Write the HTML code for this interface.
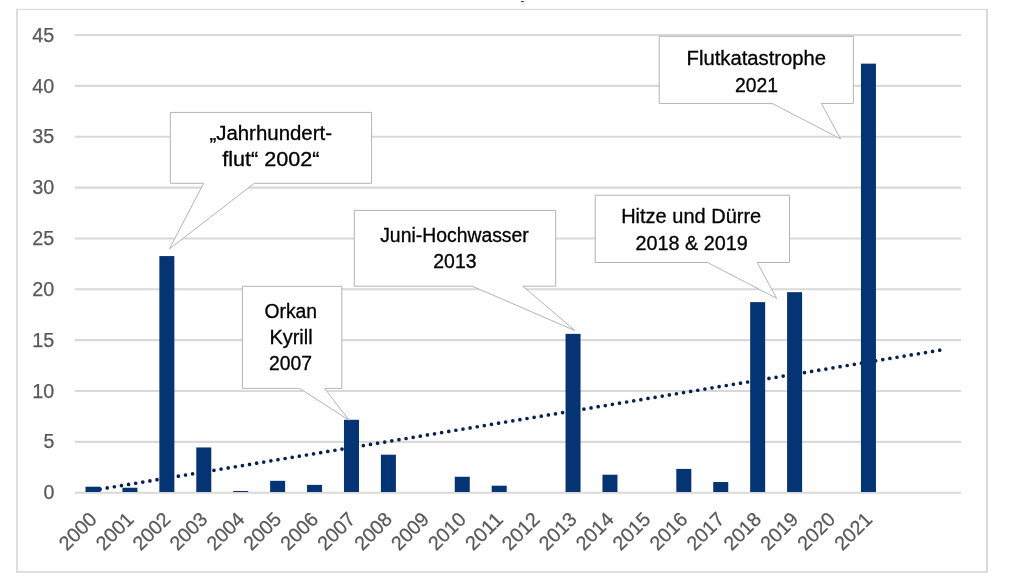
<!DOCTYPE html>
<html lang="de"><head><meta charset="utf-8"><title>Chart</title>
<style>html,body{margin:0;padding:0;background:#fff}svg{display:block}text{font-family:"Liberation Sans",sans-serif}</style>
</head><body>
<svg width="1012" height="583" viewBox="0 0 1012 583">
<rect x="0" y="0" width="1012" height="583" fill="#fff"/>
<rect x="520.9" y="1.0" width="3" height="0.9" fill="#2a2a2a"/>
<rect x="521" y="2.4" width="4" height="3.2" fill="#f1f1f1"/>
<rect x="16.1" y="8.9" width="971.9" height="1.0" fill="#d6d6d6"/>
<rect x="16.1" y="571.1" width="971.9" height="1.7" fill="#d9d9d9"/>
<rect x="16.1" y="8.9" width="1.8" height="563.9" fill="#dadada"/>
<rect x="986.05" y="8.9" width="1.95" height="563.9" fill="#d9d9d9"/>
<line x1="74.8" y1="492.70" x2="961.0" y2="492.70" stroke="#d9d9d9" stroke-width="2.1"/>
<text x="54.3" y="499.30" font-size="19.6" fill="#595959" stroke="#595959" stroke-width="0.25" text-anchor="end" textLength="10.9" lengthAdjust="spacingAndGlyphs">0</text>
<line x1="74.8" y1="441.85" x2="961.0" y2="441.85" stroke="#d9d9d9" stroke-width="2.1"/>
<text x="54.3" y="448.45" font-size="19.6" fill="#595959" stroke="#595959" stroke-width="0.25" text-anchor="end" textLength="10.9" lengthAdjust="spacingAndGlyphs">5</text>
<line x1="74.8" y1="391.00" x2="961.0" y2="391.00" stroke="#d9d9d9" stroke-width="2.1"/>
<text x="54.3" y="397.60" font-size="19.6" fill="#595959" stroke="#595959" stroke-width="0.25" text-anchor="end" textLength="22" lengthAdjust="spacingAndGlyphs">10</text>
<line x1="74.8" y1="340.15" x2="961.0" y2="340.15" stroke="#d9d9d9" stroke-width="2.1"/>
<text x="54.3" y="346.75" font-size="19.6" fill="#595959" stroke="#595959" stroke-width="0.25" text-anchor="end" textLength="22" lengthAdjust="spacingAndGlyphs">15</text>
<line x1="74.8" y1="289.30" x2="961.0" y2="289.30" stroke="#d9d9d9" stroke-width="2.1"/>
<text x="54.3" y="295.90" font-size="19.6" fill="#595959" stroke="#595959" stroke-width="0.25" text-anchor="end" textLength="22" lengthAdjust="spacingAndGlyphs">20</text>
<line x1="74.8" y1="238.45" x2="961.0" y2="238.45" stroke="#d9d9d9" stroke-width="2.1"/>
<text x="54.3" y="245.05" font-size="19.6" fill="#595959" stroke="#595959" stroke-width="0.25" text-anchor="end" textLength="22" lengthAdjust="spacingAndGlyphs">25</text>
<line x1="74.8" y1="187.60" x2="961.0" y2="187.60" stroke="#d9d9d9" stroke-width="2.1"/>
<text x="54.3" y="194.20" font-size="19.6" fill="#595959" stroke="#595959" stroke-width="0.25" text-anchor="end" textLength="22" lengthAdjust="spacingAndGlyphs">30</text>
<line x1="74.8" y1="136.75" x2="961.0" y2="136.75" stroke="#d9d9d9" stroke-width="2.1"/>
<text x="54.3" y="143.35" font-size="19.6" fill="#595959" stroke="#595959" stroke-width="0.25" text-anchor="end" textLength="22" lengthAdjust="spacingAndGlyphs">35</text>
<line x1="74.8" y1="85.90" x2="961.0" y2="85.90" stroke="#d9d9d9" stroke-width="2.1"/>
<text x="54.3" y="92.50" font-size="19.6" fill="#595959" stroke="#595959" stroke-width="0.25" text-anchor="end" textLength="22" lengthAdjust="spacingAndGlyphs">40</text>
<line x1="74.8" y1="35.05" x2="961.0" y2="35.05" stroke="#d9d9d9" stroke-width="2.1"/>
<text x="54.3" y="41.65" font-size="19.6" fill="#595959" stroke="#595959" stroke-width="0.25" text-anchor="end" textLength="22" lengthAdjust="spacingAndGlyphs">45</text>
<line x1="939.7" y1="350.2" x2="93.0" y2="490.3" stroke="#0c2050" stroke-width="3.7" stroke-linecap="round" stroke-dasharray="0 7.212"/>
<rect x="85.51" y="486.71" width="15.0" height="5.29" fill="#053474"/>
<text transform="translate(97.96,520.60) rotate(-45)" font-size="19.8" fill="#595959" stroke="#595959" stroke-width="0.25" text-anchor="end" textLength="43.8" lengthAdjust="spacingAndGlyphs">2000</text>
<rect x="122.44" y="487.73" width="15.0" height="4.27" fill="#053474"/>
<text transform="translate(134.89,520.60) rotate(-45)" font-size="19.8" fill="#595959" stroke="#595959" stroke-width="0.25" text-anchor="end" textLength="43.8" lengthAdjust="spacingAndGlyphs">2001</text>
<rect x="159.36" y="256.06" width="15.0" height="235.94" fill="#053474"/>
<text transform="translate(171.81,520.60) rotate(-45)" font-size="19.8" fill="#595959" stroke="#595959" stroke-width="0.25" text-anchor="end" textLength="43.8" lengthAdjust="spacingAndGlyphs">2002</text>
<rect x="196.29" y="447.46" width="15.0" height="44.54" fill="#053474"/>
<text transform="translate(208.74,520.60) rotate(-45)" font-size="19.8" fill="#595959" stroke="#595959" stroke-width="0.25" text-anchor="end" textLength="43.8" lengthAdjust="spacingAndGlyphs">2003</text>
<rect x="233.21" y="490.98" width="15.0" height="1.02" fill="#053474"/>
<text transform="translate(245.66,520.60) rotate(-45)" font-size="19.8" fill="#595959" stroke="#595959" stroke-width="0.25" text-anchor="end" textLength="43.8" lengthAdjust="spacingAndGlyphs">2004</text>
<rect x="270.14" y="480.81" width="15.0" height="11.19" fill="#053474"/>
<text transform="translate(282.59,520.60) rotate(-45)" font-size="19.8" fill="#595959" stroke="#595959" stroke-width="0.25" text-anchor="end" textLength="43.8" lengthAdjust="spacingAndGlyphs">2005</text>
<rect x="307.06" y="484.88" width="15.0" height="7.12" fill="#053474"/>
<text transform="translate(319.51,520.60) rotate(-45)" font-size="19.8" fill="#595959" stroke="#595959" stroke-width="0.25" text-anchor="end" textLength="43.8" lengthAdjust="spacingAndGlyphs">2006</text>
<rect x="343.99" y="419.79" width="15.0" height="72.21" fill="#053474"/>
<text transform="translate(356.44,520.60) rotate(-45)" font-size="19.8" fill="#595959" stroke="#595959" stroke-width="0.25" text-anchor="end" textLength="43.8" lengthAdjust="spacingAndGlyphs">2007</text>
<rect x="380.91" y="454.68" width="15.0" height="37.32" fill="#053474"/>
<text transform="translate(393.36,520.60) rotate(-45)" font-size="19.8" fill="#595959" stroke="#595959" stroke-width="0.25" text-anchor="end" textLength="43.8" lengthAdjust="spacingAndGlyphs">2008</text>
<text transform="translate(430.29,520.60) rotate(-45)" font-size="19.8" fill="#595959" stroke="#595959" stroke-width="0.25" text-anchor="end" textLength="43.8" lengthAdjust="spacingAndGlyphs">2009</text>
<rect x="454.76" y="476.75" width="15.0" height="15.25" fill="#053474"/>
<text transform="translate(467.21,520.60) rotate(-45)" font-size="19.8" fill="#595959" stroke="#595959" stroke-width="0.25" text-anchor="end" textLength="43.8" lengthAdjust="spacingAndGlyphs">2010</text>
<rect x="491.69" y="485.69" width="15.0" height="6.31" fill="#053474"/>
<text transform="translate(504.14,520.60) rotate(-45)" font-size="19.8" fill="#595959" stroke="#595959" stroke-width="0.25" text-anchor="end" textLength="43.8" lengthAdjust="spacingAndGlyphs">2011</text>
<text transform="translate(541.06,520.60) rotate(-45)" font-size="19.8" fill="#595959" stroke="#595959" stroke-width="0.25" text-anchor="end" textLength="43.8" lengthAdjust="spacingAndGlyphs">2012</text>
<rect x="565.54" y="333.86" width="15.0" height="158.14" fill="#053474"/>
<text transform="translate(577.99,520.60) rotate(-45)" font-size="19.8" fill="#595959" stroke="#595959" stroke-width="0.25" text-anchor="end" textLength="43.8" lengthAdjust="spacingAndGlyphs">2013</text>
<rect x="602.46" y="474.71" width="15.0" height="17.29" fill="#053474"/>
<text transform="translate(614.91,520.60) rotate(-45)" font-size="19.8" fill="#595959" stroke="#595959" stroke-width="0.25" text-anchor="end" textLength="43.8" lengthAdjust="spacingAndGlyphs">2014</text>
<text transform="translate(651.84,520.60) rotate(-45)" font-size="19.8" fill="#595959" stroke="#595959" stroke-width="0.25" text-anchor="end" textLength="43.8" lengthAdjust="spacingAndGlyphs">2015</text>
<rect x="676.31" y="468.91" width="15.0" height="23.09" fill="#053474"/>
<text transform="translate(688.76,520.60) rotate(-45)" font-size="19.8" fill="#595959" stroke="#595959" stroke-width="0.25" text-anchor="end" textLength="43.8" lengthAdjust="spacingAndGlyphs">2016</text>
<rect x="713.24" y="482.03" width="15.0" height="9.97" fill="#053474"/>
<text transform="translate(725.69,520.60) rotate(-45)" font-size="19.8" fill="#595959" stroke="#595959" stroke-width="0.25" text-anchor="end" textLength="43.8" lengthAdjust="spacingAndGlyphs">2017</text>
<rect x="750.16" y="302.13" width="15.0" height="189.87" fill="#053474"/>
<text transform="translate(762.61,520.60) rotate(-45)" font-size="19.8" fill="#595959" stroke="#595959" stroke-width="0.25" text-anchor="end" textLength="43.8" lengthAdjust="spacingAndGlyphs">2018</text>
<rect x="787.09" y="292.16" width="15.0" height="199.84" fill="#053474"/>
<text transform="translate(799.54,520.60) rotate(-45)" font-size="19.8" fill="#595959" stroke="#595959" stroke-width="0.25" text-anchor="end" textLength="43.8" lengthAdjust="spacingAndGlyphs">2019</text>
<text transform="translate(836.46,520.60) rotate(-45)" font-size="19.8" fill="#595959" stroke="#595959" stroke-width="0.25" text-anchor="end" textLength="43.8" lengthAdjust="spacingAndGlyphs">2020</text>
<rect x="860.94" y="63.64" width="15.0" height="428.36" fill="#053474"/>
<text transform="translate(873.39,520.60) rotate(-45)" font-size="19.8" fill="#595959" stroke="#595959" stroke-width="0.25" text-anchor="end" textLength="43.8" lengthAdjust="spacingAndGlyphs">2021</text>
<path d="M242.4 286.3H341.8V388.4H324.7L349.1 420.2L299.5 388.4H242.4Z" fill="#fff" stroke="#b3b3b3" stroke-width="1"/>
<text x="264.4" y="317.5" font-size="19.6" fill="#000" stroke="#000" stroke-width="0.3" textLength="52.7" lengthAdjust="spacingAndGlyphs">Orkan</text>
<text x="269.4" y="343.6" font-size="19.6" fill="#000" stroke="#000" stroke-width="0.3" textLength="43.2" lengthAdjust="spacingAndGlyphs">Kyrill</text>
<text x="269.0" y="370.3" font-size="19.6" fill="#000" stroke="#000" stroke-width="0.3" textLength="43.0" lengthAdjust="spacingAndGlyphs">2007</text>
<path d="M170.3 112.4H371.6V183.3H254.3L169.4 248.9L203.7 183.3H170.3Z" fill="#fff" stroke="#b3b3b3" stroke-width="1"/>
<text x="209.4" y="139.7" font-size="19.6" fill="#000" stroke="#000" stroke-width="0.3" textLength="122.6" lengthAdjust="spacingAndGlyphs">„Jahrhundert-</text>
<text x="222.2" y="166.4" font-size="19.6" fill="#000" stroke="#000" stroke-width="0.3" textLength="97.4" lengthAdjust="spacingAndGlyphs">flut“ 2002“</text>
<path d="M354.3 210.4H555.7V286.2H522.8L574.8 330.5L472.2 286.2H354.3Z" fill="#fff" stroke="#b3b3b3" stroke-width="1"/>
<text x="380.2" y="241.5" font-size="19.6" fill="#000" stroke="#000" stroke-width="0.3" textLength="148.6" lengthAdjust="spacingAndGlyphs">Juni-Hochwasser</text>
<text x="433.3" y="268.4" font-size="19.6" fill="#000" stroke="#000" stroke-width="0.3" textLength="43.2" lengthAdjust="spacingAndGlyphs">2013</text>
<path d="M595.2 195.2H789.5V262.5H757.2L776.6 298.3L707.5 262.5H595.2Z" fill="#fff" stroke="#b3b3b3" stroke-width="1"/>
<text x="621.2" y="223.2" font-size="19.6" fill="#000" stroke="#000" stroke-width="0.3" textLength="140.0" lengthAdjust="spacingAndGlyphs">Hitze und Dürre</text>
<text x="635.6" y="250.4" font-size="19.6" fill="#000" stroke="#000" stroke-width="0.3" textLength="112.2" lengthAdjust="spacingAndGlyphs">2018 &amp; 2019</text>
<path d="M659.2 36.3H853.4V103.4H821.4L840.6 138.9L772.1 103.4H659.2Z" fill="#fff" stroke="#b3b3b3" stroke-width="1"/>
<text x="686.6" y="64.7" font-size="19.6" fill="#000" stroke="#000" stroke-width="0.3" textLength="139.5" lengthAdjust="spacingAndGlyphs">Flutkatastrophe</text>
<text x="735.0" y="91.6" font-size="19.6" fill="#000" stroke="#000" stroke-width="0.3" textLength="43.0" lengthAdjust="spacingAndGlyphs">2021</text>
</svg></body></html>
